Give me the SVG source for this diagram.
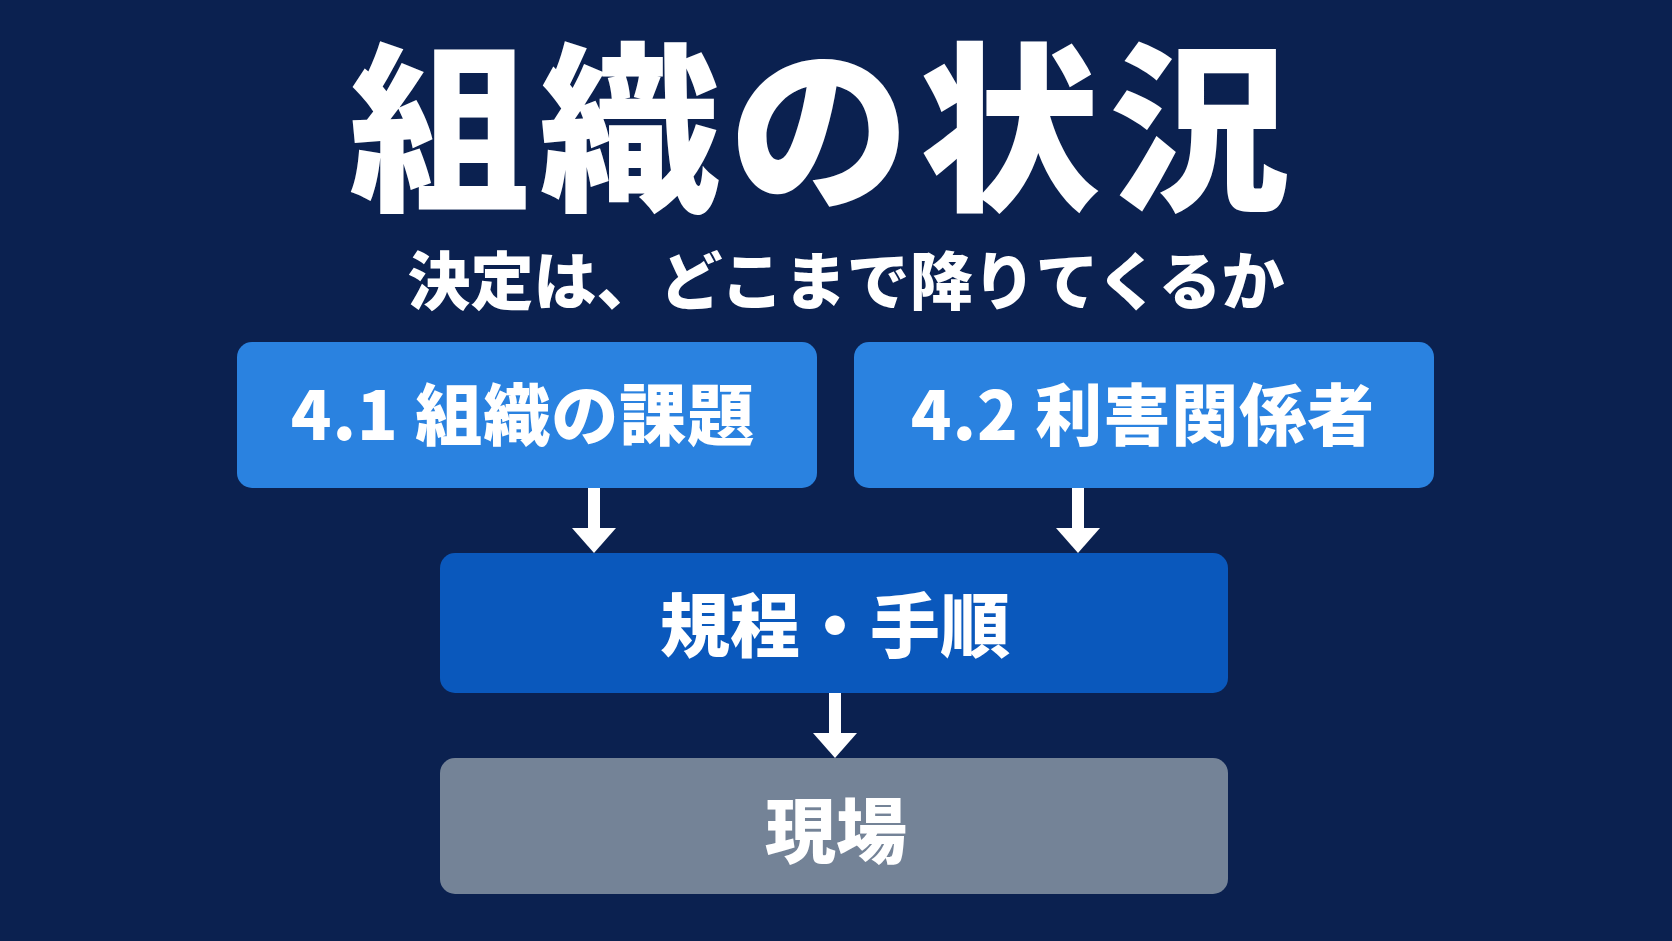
<svg xmlns="http://www.w3.org/2000/svg" width="1672" height="941" viewBox="0 0 1672 941">
  <style>
    .t { font-family: "Noto Sans CJK JP", "Noto Sans", sans-serif; fill: #ffffff; text-anchor: middle; font-weight: 900; }
    .lbl { font-family: "Noto Sans CJK JP", "Noto Sans", sans-serif; fill: #ffffff; text-anchor: middle; font-weight: 900; }
  </style>
  <rect x="0" y="0" width="1672" height="941" fill="#0b2150"/>

  <g id="title">
    <text class="t" x="824" y="196" font-size="181" letter-spacing="9">組織の状況</text>
    <text class="t" x="846" y="304" font-size="63">決定は、どこまで降りてくるか</text>
  </g>

  <g id="connectors">
    <line x1="594" y1="487" x2="594" y2="529" stroke="#ffffff" stroke-width="12"/>
    <polygon points="572,528 616,528 594,553" fill="#ffffff"/>
    <line x1="1078" y1="487" x2="1078" y2="529" stroke="#ffffff" stroke-width="12"/>
    <polygon points="1056,528 1100,528 1078,553" fill="#ffffff"/>
    <line x1="835" y1="692" x2="835" y2="734" stroke="#ffffff" stroke-width="12"/>
    <polygon points="813,733 857,733 835,758" fill="#ffffff"/>
  </g>

  <g id="node-41">
    <rect x="237" y="342" width="580" height="146" rx="15" fill="#2a82e0"/>
    <text class="lbl" x="523" y="440" font-size="67" letter-spacing="1">4.1 組織の課題</text>
  </g>
  <g id="node-42">
    <rect x="854" y="342" width="580" height="146" rx="15" fill="#2a82e0"/>
    <text class="lbl" x="1143" y="440" font-size="67" letter-spacing="1">4.2 利害関係者</text>
  </g>
  <g id="node-rules">
    <rect x="440" y="553" width="788" height="140" rx="15" fill="#0a58bc"/>
    <text class="lbl" x="835" y="652" font-size="70">規程・手順</text>
  </g>
  <g id="node-field">
    <rect x="440" y="758" width="788" height="136" rx="15" fill="#748397"/>
    <text class="lbl" x="836" y="857" font-size="71">現場</text>
  </g>
</svg>
